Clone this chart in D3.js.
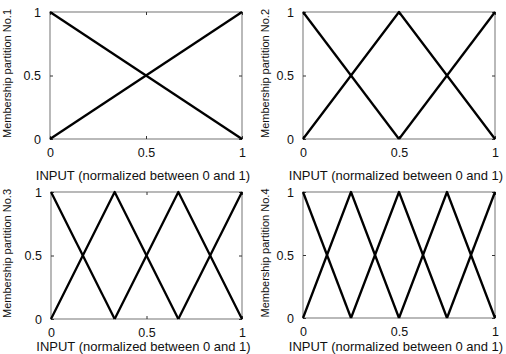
<!DOCTYPE html>
<html>
<head>
<meta charset="utf-8">
<script src="https://cdn.jsdelivr.net/npm/d3@7"></script>
<style>
  body { margin: 0; background: #fff; }
  text { font-family: Arial, "Liberation Sans", sans-serif; fill: #111; }
</style>
</head>
<body>
<div id="container"></div>
<script>
/* DATA */
// each partition: list of membership functions, each one a list of [input, membership] vertices
const partition1 = [
  [[0, 1], [1, 0]],
  [[0, 0], [1, 1]]
];
const partition2 = [
  [[0, 1], [0.5, 0]],
  [[0, 0], [0.5, 1], [1, 0]],
  [[0.5, 0], [1, 1]]
];
const partition3 = [
  [[0, 1], [1 / 3, 0]],
  [[0, 0], [1 / 3, 1], [2 / 3, 0]],
  [[1 / 3, 0], [2 / 3, 1], [1, 0]],
  [[2 / 3, 0], [1, 1]]
];
const partition4 = [
  [[0, 1], [0.25, 0]],
  [[0, 0], [0.25, 1], [0.5, 0]],
  [[0.25, 0], [0.5, 1], [0.75, 0]],
  [[0.5, 0], [0.75, 1], [1, 0]],
  [[0.75, 0], [1, 1]]
];
const partitionNames = ["Membership partition No.1", "Membership partition No.2",
                        "Membership partition No.3", "Membership partition No.4"];
const xTicks = [0, 0.5, 1];
const yTicks = [0, 0.5, 1];
const xTitle = "INPUT (normalized between 0 and 1)";

/* LAYOUT */
const width = 506, height = 354;
const panels = [
  { data: partition1, x0: 50, x1: 242, y0: 12, y1: 139, labelX: 7, titleGap: 41 },
  { data: partition2, x0: 303, x1: 495, y0: 12, y1: 139, labelX: 265, titleGap: 41 },
  { data: partition3, x0: 51, x1: 242, y0: 192, y1: 319, labelX: 7, titleGap: 32 },
  { data: partition4, x0: 303, x1: 495, y0: 192, y1: 318, labelX: 265, titleGap: 33 }
];

const svg = d3.select("#container")
  .append("svg")
  .attr("width", width)
  .attr("height", height);

panels.forEach((p, i) => {
  const xScale = d3.scaleLinear().domain([0, 1]).range([p.x0, p.x1]);
  const yScale = d3.scaleLinear().domain([0, 1]).range([p.y1, p.y0]);
  const g = svg.append("g");

  // box
  g.append("rect")
    .attr("x", p.x0).attr("y", p.y0)
    .attr("width", p.x1 - p.x0).attr("height", p.y1 - p.y0)
    .attr("fill", "none")
    .attr("stroke", "#8a8a8a")
    .attr("stroke-width", 1.2);

  // axes with inner ticks (matlab style)
  const fmt = d => d === 0.5 ? "0.5" : d3.format("d")(d);
  g.append("g")
    .attr("transform", `translate(0,${p.y1})`)
    .call(d3.axisBottom(xScale).tickValues(xTicks).tickSize(-3).tickPadding(6).tickFormat(fmt))
    .call(a => a.select(".domain").remove())
    .call(a => a.selectAll("text").attr("font-size", 12.5).attr("dy", "0.95em"));
  g.append("g")
    .attr("transform", `translate(0,${p.y0})`)
    .call(d3.axisTop(xScale).tickValues(xTicks).tickSize(-3).tickFormat(""))
    .call(a => a.select(".domain").remove());
  g.append("g")
    .attr("transform", `translate(${p.x0},0)`)
    .call(d3.axisLeft(yScale).tickValues(yTicks).tickSize(-3).tickPadding(9).tickFormat(fmt))
    .call(a => a.select(".domain").remove())
    .call(a => a.selectAll("text").attr("font-size", 12.5));
  g.append("g")
    .attr("transform", `translate(${p.x1},0)`)
    .call(d3.axisRight(yScale).tickValues(yTicks).tickSize(-3).tickFormat(""))
    .call(a => a.select(".domain").remove());
  g.selectAll(".tick line").attr("stroke", "#333");

  // membership functions
  const line = d3.line()
    .x(d => xScale(d[0]))
    .y(d => yScale(d[1]));
  g.selectAll("path.mf")
    .data(p.data)
    .join("path")
    .attr("class", "mf")
    .attr("fill", "none")
    .attr("stroke", "#000")
    .attr("stroke-width", 2.3)
    .attr("stroke-linejoin", "round")
    .attr("d", line);

  // titles
  g.append("text")
    .attr("x", (p.x0 + p.x1) / 2 - 3)
    .attr("y", p.y1 + p.titleGap)
    .attr("text-anchor", "middle")
    .attr("font-size", 13)
    .text(xTitle);
  g.append("text")
    .attr("transform", `translate(${p.labelX},${(p.y0 + p.y1) / 2 - 2}) rotate(-90)`)
    .attr("text-anchor", "middle")
    .attr("dy", "0.35em")
    .attr("font-size", 11)
    .text(partitionNames[i]);
});
</script>
</body>
</html>
